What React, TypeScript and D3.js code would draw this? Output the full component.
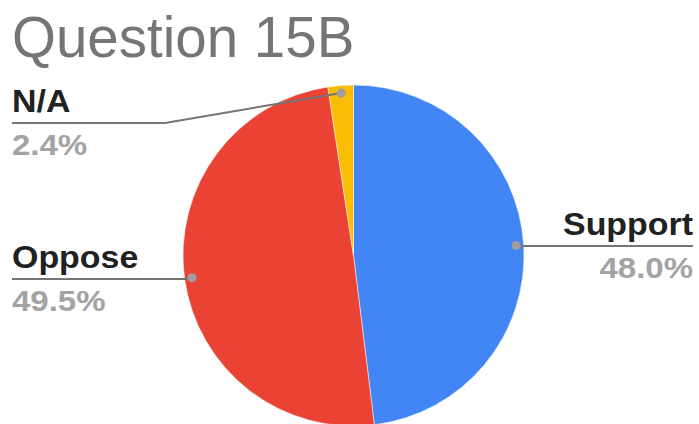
import { useEffect, useRef } from 'react';
import * as d3 from 'd3';

const categories = ['Support', 'Oppose', 'N/A'];
const values = [48.0, 49.5, 2.4];
const labels = ['48.0%', '49.5%', '2.4%'];
const colors = ['#4285f4', '#ea4335', '#fbbc04'];

const W = 699;
const H = 424;

const App = () => {
  const svgRef = useRef<SVGSVGElement>(null);

  useEffect(() => {
    if (!svgRef.current) return;
    const svg = d3.select(svgRef.current);
    svg.selectAll('*').remove();

    const cx = 353.5;
    const cy = 255.5;
    const r = 170.5;
    const dotR = 163;

    const data = categories.map((c, i) => ({ name: c, value: values[i], label: labels[i], color: colors[i] }));

    const pie = d3.pie<any>().sort(null).value(d => d.value);
    const arcs = pie(data);
    const arc = d3.arc<any>().innerRadius(0).outerRadius(r);
    const dotArc = d3.arc<any>().innerRadius(dotR).outerRadius(dotR);

    const font = '"Liberation Sans", Arial, sans-serif';

    svg.append('text')
      .attr('x', 12)
      .attr('y', 57)
      .style('font-family', font)
      .style('font-size', '56.5px')
      .style('fill', '#757575')
      .text('Question 15B');

    const g = svg.append('g').attr('transform', `translate(${cx},${cy})`);
    g.selectAll('path.slice')
      .data(arcs)
      .enter()
      .append('path')
      .attr('class', 'slice')
      .attr('d', arc)
      .attr('fill', d => d.data.color)
      .attr('stroke', '#fff')
      .attr('stroke-width', 0.5);

    // label layout: line y, side, knee x
    const layout: Record<string, { y: number; side: 'left' | 'right'; knee?: number }> = {
      Support: { y: 246, side: 'right' },
      Oppose: { y: 279, side: 'left' },
      'N/A': { y: 123, side: 'left', knee: 165 },
    };

    arcs.forEach(a => {
      const [dx, dy] = dotArc.centroid(a);
      const px = cx + dx;
      const py = cy + dy;
      const l = layout[a.data.name];
      const endX = l.side === 'left' ? 12 : 693;
      const pts: [number, number][] = [[px, py]];
      if (l.knee !== undefined) pts.push([l.knee, l.y]);
      else pts.push([px, l.y]);
      pts.push([endX, l.y]);

      svg.append('path')
        .attr('d', d3.line()(pts))
        .attr('fill', 'none')
        .attr('stroke', '#757575')
        .attr('stroke-width', 2);

      svg.append('circle')
        .attr('cx', px)
        .attr('cy', py)
        .attr('r', 4.5)
        .attr('fill', '#9e9e9e');

      const anchor = l.side === 'left' ? 'start' : 'end';
      svg.append('text')
        .attr('transform', `translate(${endX},${l.y - 11}) scale(1.06,1)`)
        .attr('text-anchor', anchor)
        .style('font-family', font)
        .style('font-weight', 'bold')
        .style('font-size', '32px')
        .style('fill', '#212121')
        .text(a.data.name);

      svg.append('text')
        .attr('transform', `translate(${endX},${l.y + 32}) scale(1.1,1)`)
        .attr('text-anchor', anchor)
        .style('font-family', font)
        .style('font-weight', 'bold')
        .style('font-size', '30px')
        .style('fill', '#a3a3a3')
        .text(a.data.label);
    });
  }, []);

  return (
    <svg
      ref={svgRef}
      width={W}
      height={H}
      style={{ position: 'absolute', left: 0, top: 0, background: '#fff' }}
    />
  );
};

export default App;
